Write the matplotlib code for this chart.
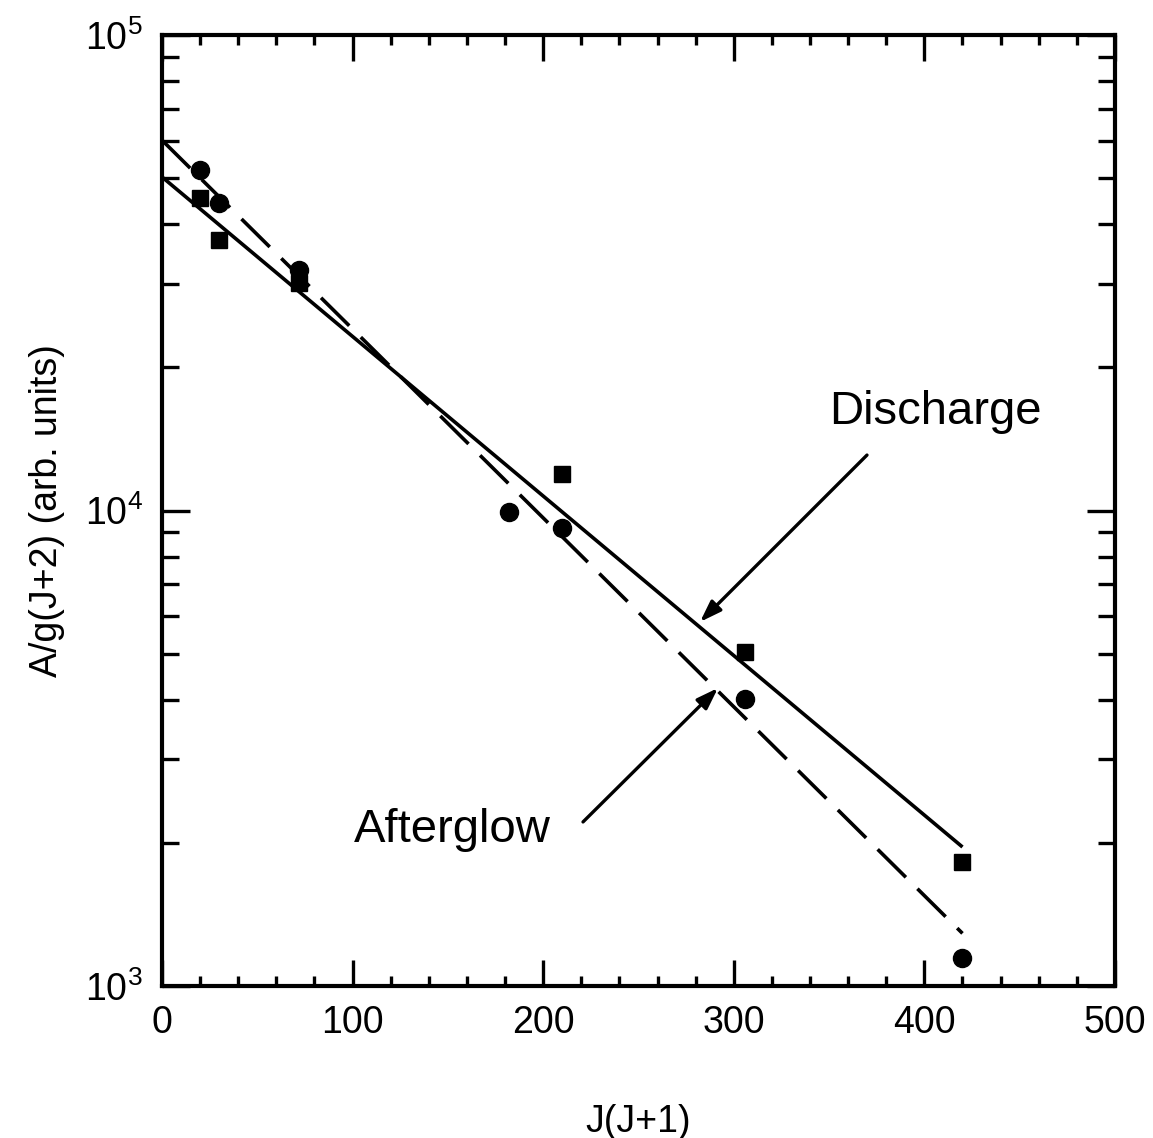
import matplotlib
matplotlib.use("Agg")
import matplotlib.pyplot as plt
from matplotlib.ticker import FixedLocator, LogLocator, NullFormatter, FixedFormatter

plt.rcParams['font.family'] = ['Liberation Sans', 'DejaVu Sans']
plt.rcParams['mathtext.default'] = 'regular'

# Data
circle_x = [20, 30, 72, 182, 210, 306, 420]
circle_y = [52000, 44300, 32000, 9930, 9190, 4010, 1145]
square_x = [20, 30, 72, 210, 306, 420]
square_y = [45400, 37000, 30100, 11940, 5040, 1820]
discharge_fit_x = [0, 420]
discharge_fit_y = [50300, 1960]
afterglow_fit_x = [0, 420]
afterglow_fit_y = [60100, 1290]
x_ticks = [0, 100, 200, 300, 400, 500]
y_ticks = [1e3, 1e4, 1e5]
y_tick_labels = [r'$10^{3}$', r'$10^{4}$', r'$10^{5}$']

fig = plt.figure(figsize=(11.53, 11.38), dpi=100)
ax = fig.add_axes([0.1405, 0.1336, 0.8265, 0.8356])

ax.plot(discharge_fit_x, discharge_fit_y, color='black', lw=2.6, solid_capstyle='butt')
ax.plot(afterglow_fit_x, afterglow_fit_y, color='black', lw=2.6, linestyle=(0, (11, 4.5)))
ax.plot(square_x, square_y, 's', color='black', markersize=11.5, zorder=3)
ax.plot(circle_x, circle_y, 'o', color='black', markersize=13, zorder=3)

ax.set_yscale('log')
ax.set_xlim(0, 500)
ax.set_ylim(1e3, 1e5)

ax.xaxis.set_major_locator(FixedLocator(x_ticks))
ax.xaxis.set_minor_locator(FixedLocator(list(range(0, 501, 20))))
ax.yaxis.set_major_locator(FixedLocator(y_ticks))
ax.yaxis.set_major_formatter(FixedFormatter(y_tick_labels))
ax.yaxis.set_minor_locator(LogLocator(base=10, subs=range(2, 10)))
ax.yaxis.set_minor_formatter(NullFormatter())

ax.tick_params(axis='both', which='both', direction='in', top=True, right=True, width=2.4, labelsize=27)
ax.tick_params(axis='x', which='major', length=19, pad=14)
ax.tick_params(axis='x', which='minor', length=7)
ax.tick_params(axis='y', which='major', length=20, pad=14)
ax.tick_params(axis='y', which='minor', length=12)
for s in ax.spines.values():
    s.set_linewidth(3)

ax.set_xlabel('J(J+1)', fontsize=27, labelpad=45)
ax.set_ylabel('A/g(J+2) (arb. units)', fontsize=27, labelpad=14)

ax.annotate('', xy=(282.3, 5830), xytext=(369.9, 13080),
            arrowprops=dict(arrowstyle='-|>,head_length=1.3,head_width=0.45', color='black', lw=2.4, shrinkA=0, shrinkB=0))
ax.annotate('', xy=(291.7, 4233), xytext=(220.9, 2213),
            arrowprops=dict(arrowstyle='-|>,head_length=1.3,head_width=0.45', color='black', lw=2.4, shrinkA=0, shrinkB=0))
ax.text(405.6, 16110, 'Discharge', fontsize=34, ha='center', va='center')
ax.text(152.2, 2129, 'Afterglow', fontsize=34, ha='center', va='center')

fig.savefig('out.png', dpi=100)
